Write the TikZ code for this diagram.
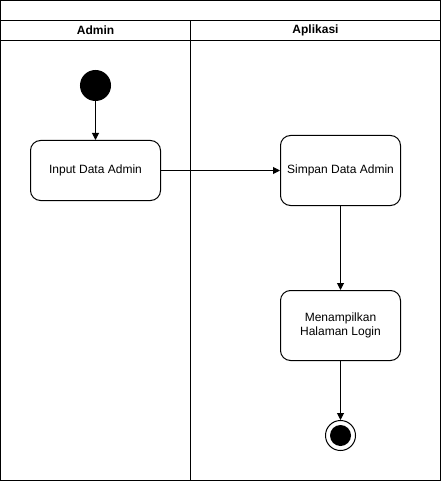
\documentclass[tikz,border=0pt]{standalone}
\usepackage{fontspec}
\setmainfont{Liberation Sans}
\usetikzlibrary{arrows.meta}

\tikzset{
    act/.style={draw, rounded corners=10pt, line width=1pt, align=center, font=\fontsize{12}{14}\selectfont},
    lane/.style={font=\bfseries\fontsize{12}{14}\selectfont},
    flow/.style={-{Triangle[length=7pt,width=7pt]}, line width=1pt},
}

\begin{document}
\begin{tikzpicture}[x=1pt, y=-1pt]
            \useasboundingbox (0,0) rectangle (441,481);
            % swimlanes
            \draw[line width=1pt] (0.5,0.5) rectangle (440.5,480.5);
            \draw[line width=1pt] (0.5,20.5) -- (440.5,20.5);
            \draw[line width=1pt] (0.5,40.5) -- (440.5,40.5);
            \draw[line width=1pt] (190.5,20.5) -- (190.5,480.5);
            \node[lane] (admin) at (95.5,30.5) {Admin};
            \node[lane] (aplikasi) at (315.5,30.5) {Aplikasi};

            \node[circle, fill=black, draw, line width=1pt, minimum size=30pt, inner sep=0pt] (start) at (95.5,85.5) {};
            \node[act, minimum width=130pt, minimum height=60pt] (input) at (95.5,170.5) {Input Data Admin};
            \node[act, minimum width=120pt, minimum height=70pt] (simpan) at (340.5,170.5) {Simpan Data Admin};
            \node[act, minimum width=120pt, minimum height=70pt] (tampil) at (340.5,325.5) {Menampilkan\\Halaman Login};
            \node[circle, draw, line width=1pt, minimum size=30pt, inner sep=0pt] (end) at (340.5,435.5) {};
            \node[circle, fill=black, minimum size=21pt, inner sep=0pt] (endin) at (end) {};

            \draw[flow] (start) -- (input);
            \draw[flow] (input) -- (simpan);
            \draw[flow] (simpan) -- (tampil);
            \draw[flow] (tampil) -- (end);
        \end{tikzpicture}
\end{document}
